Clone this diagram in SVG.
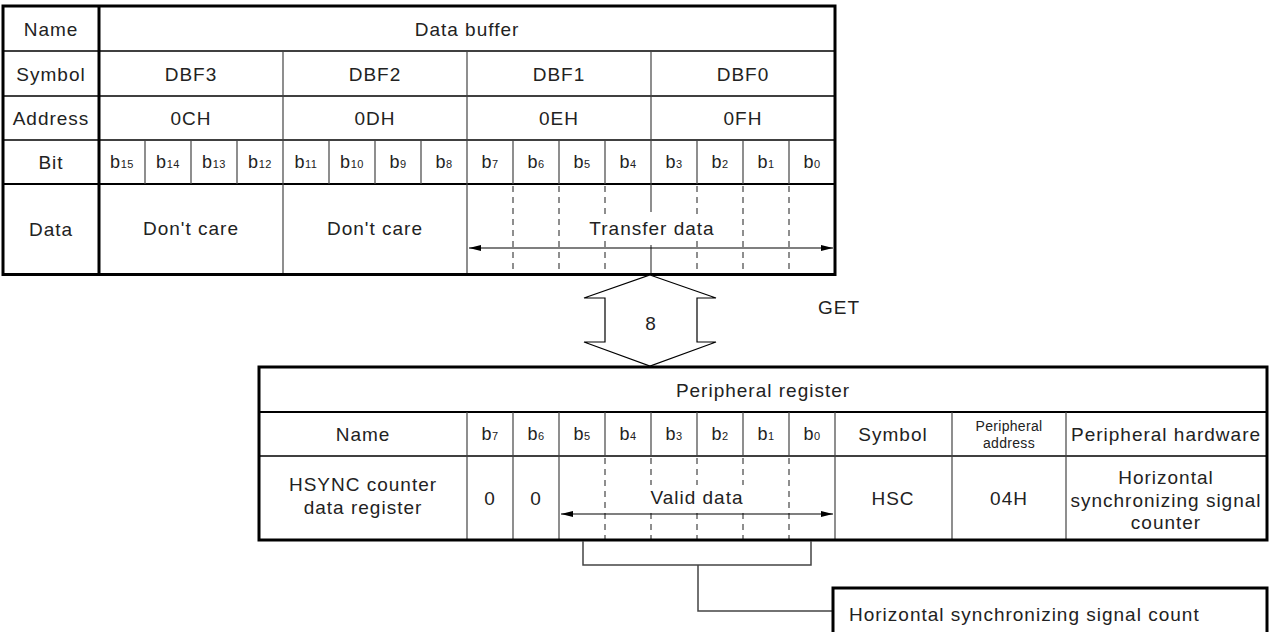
<svg xmlns="http://www.w3.org/2000/svg" width="1269" height="632" viewBox="0 0 1269 632">
  <defs>
    <style>
      text { font-family: "Liberation Sans", Arial, sans-serif; font-size: 19px; fill: #222; letter-spacing: 1px; }
      .m { text-anchor: middle; }
      .sub { font-size: 11px; letter-spacing: 0.5px; }
      .bit { font-size: 18px; text-anchor: middle; letter-spacing: 0.5px; }
      .small { font-size: 14px; letter-spacing: 0.3px; text-anchor: middle; }
      .border { fill: none; stroke: #000; stroke-width: 3; }
      .hl { stroke: #000; stroke-width: 1.5; fill: none; }
      .hl2 { stroke: #000; stroke-width: 2; fill: none; }
      .vl { stroke: #444; stroke-width: 1.2; fill: none; }
      .dash { stroke: #444; stroke-width: 1.2; stroke-dasharray: 6 5; fill: none; }
      .arr { stroke: #000; stroke-width: 1.2; fill: none; marker-start: url(#ah); marker-end: url(#ah); }
      .conn { stroke: #444; stroke-width: 1.5; fill: none; }
    </style>
    <marker id="ah" viewBox="0 0 12 6" refX="12" refY="3" markerWidth="12" markerHeight="6" markerUnits="userSpaceOnUse" orient="auto-start-reverse">
      <path d="M0,0 L12,3 L0,6 Z" fill="#000"/>
    </marker>
  </defs>
  <rect width="1269" height="632" fill="#fff"/>

  <!-- Data buffer table -->
  <g id="data-buffer">
    <rect x="3" y="6" width="832" height="268.5" fill="#fff"/>
    <line class="hl" x1="3" y1="51" x2="835" y2="51"/>
    <line class="hl" x1="3" y1="96" x2="835" y2="96"/>
    <line class="hl" x1="3" y1="140" x2="835" y2="140"/>
    <line class="hl2" x1="3" y1="184" x2="835" y2="184"/>
    <line class="vl" x1="283" y1="51" x2="283" y2="274"/>
    <line class="vl" x1="467" y1="51" x2="467" y2="274"/>
    <line class="vl" x1="651" y1="51" x2="651" y2="212"/>
    <line class="vl" x1="651" y1="245" x2="651" y2="274"/>
    <g class="vl">
      <line x1="145" y1="140" x2="145" y2="184"/>
      <line x1="191" y1="140" x2="191" y2="184"/>
      <line x1="237" y1="140" x2="237" y2="184"/>
      <line x1="329" y1="140" x2="329" y2="184"/>
      <line x1="375" y1="140" x2="375" y2="184"/>
      <line x1="421" y1="140" x2="421" y2="184"/>
      <line x1="513" y1="140" x2="513" y2="184"/>
      <line x1="559" y1="140" x2="559" y2="184"/>
      <line x1="605" y1="140" x2="605" y2="184"/>
      <line x1="697" y1="140" x2="697" y2="184"/>
      <line x1="743" y1="140" x2="743" y2="184"/>
      <line x1="789" y1="140" x2="789" y2="184"/>
    </g>
    <g class="dash">
      <line x1="513" y1="186" x2="513" y2="274"/>
      <line x1="559" y1="186" x2="559" y2="274"/>
      <line x1="605" y1="186" x2="605" y2="274"/>
      <line x1="697" y1="186" x2="697" y2="274"/>
      <line x1="743" y1="186" x2="743" y2="274"/>
      <line x1="789" y1="186" x2="789" y2="274"/>
    </g>
    <rect x="588" y="216" width="128" height="24" fill="#fff"/>
    <line class="arr" x1="469" y1="248" x2="833" y2="248"/>
    <line x1="99" y1="6" x2="99" y2="274" stroke="#000" stroke-width="3"/>
    <rect class="border" x="3" y="6" width="832" height="268.5"/>

    <text class="m" x="51" y="36">Name</text>
    <text class="m" x="51" y="81">Symbol</text>
    <text class="m" x="51" y="125">Address</text>
    <text class="m" x="51" y="169">Bit</text>
    <text class="m" x="51" y="236">Data</text>
    <text class="m" x="467" y="36">Data buffer</text>
    <text class="m" x="191" y="81">DBF3</text>
    <text class="m" x="375" y="81">DBF2</text>
    <text class="m" x="559" y="81">DBF1</text>
    <text class="m" x="743" y="81">DBF0</text>
    <text class="m" x="191" y="125">0CH</text>
    <text class="m" x="375" y="125">0DH</text>
    <text class="m" x="559" y="125">0EH</text>
    <text class="m" x="743" y="125">0FH</text>
    <text class="bit" x="122" y="168">b<tspan class="sub">15</tspan></text>
    <text class="bit" x="168" y="168">b<tspan class="sub">14</tspan></text>
    <text class="bit" x="214" y="168">b<tspan class="sub">13</tspan></text>
    <text class="bit" x="260" y="168">b<tspan class="sub">12</tspan></text>
    <text class="bit" x="306" y="168">b<tspan class="sub">11</tspan></text>
    <text class="bit" x="352" y="168">b<tspan class="sub">10</tspan></text>
    <text class="bit" x="398" y="168">b<tspan class="sub">9</tspan></text>
    <text class="bit" x="444" y="168">b<tspan class="sub">8</tspan></text>
    <text class="bit" x="490" y="168">b<tspan class="sub">7</tspan></text>
    <text class="bit" x="536" y="168">b<tspan class="sub">6</tspan></text>
    <text class="bit" x="582" y="168">b<tspan class="sub">5</tspan></text>
    <text class="bit" x="628" y="168">b<tspan class="sub">4</tspan></text>
    <text class="bit" x="674" y="168">b<tspan class="sub">3</tspan></text>
    <text class="bit" x="720" y="168">b<tspan class="sub">2</tspan></text>
    <text class="bit" x="766" y="168">b<tspan class="sub">1</tspan></text>
    <text class="bit" x="812" y="168">b<tspan class="sub">0</tspan></text>
    <text class="m" x="191" y="235">Don't care</text>
    <text class="m" x="375" y="235">Don't care</text>
    <text class="m" x="652" y="235">Transfer data</text>
  </g>

  <!-- Transfer arrow -->
  <g id="transfer-arrow">
    <polygon points="650,275 716,298 697,298 697,342 716,342 650,366 584,342 605,342 605,298 584,298" fill="#fff" stroke="#000" stroke-width="1.2"/>
    <text class="m" x="651" y="330">8</text>
    <text class="m" x="839" y="314">GET</text>
  </g>

  <!-- Peripheral register table -->
  <g id="peripheral-register">
    <rect x="259" y="367" width="1008" height="173" fill="#fff"/>
    <line class="hl2" x1="259" y1="412" x2="1267" y2="412"/>
    <line class="hl" x1="259" y1="456" x2="1267" y2="456"/>
    <g class="vl">
      <line x1="467" y1="412" x2="467" y2="540"/>
      <line x1="513" y1="412" x2="513" y2="540"/>
      <line x1="559" y1="412" x2="559" y2="540"/>
      <line x1="835" y1="412" x2="835" y2="540"/>
      <line x1="952" y1="412" x2="952" y2="540"/>
      <line x1="1066" y1="412" x2="1066" y2="540"/>
      <line x1="605" y1="412" x2="605" y2="456"/>
      <line x1="651" y1="412" x2="651" y2="456"/>
      <line x1="697" y1="412" x2="697" y2="456"/>
      <line x1="743" y1="412" x2="743" y2="456"/>
      <line x1="789" y1="412" x2="789" y2="456"/>
    </g>
    <g class="dash">
      <line x1="605" y1="458" x2="605" y2="540"/>
      <line x1="651" y1="458" x2="651" y2="540"/>
      <line x1="697" y1="458" x2="697" y2="540"/>
      <line x1="743" y1="458" x2="743" y2="540"/>
      <line x1="789" y1="458" x2="789" y2="540"/>
    </g>
    <rect x="642" y="485" width="112" height="24" fill="#fff"/>
    <line class="arr" x1="561" y1="514" x2="833" y2="514"/>
    <rect class="border" x="259" y="367" width="1008" height="173"/>

    <text class="m" x="763" y="397">Peripheral register</text>
    <text class="m" x="363" y="441">Name</text>
    <text class="bit" x="490" y="440">b<tspan class="sub">7</tspan></text>
    <text class="bit" x="536" y="440">b<tspan class="sub">6</tspan></text>
    <text class="bit" x="582" y="440">b<tspan class="sub">5</tspan></text>
    <text class="bit" x="628" y="440">b<tspan class="sub">4</tspan></text>
    <text class="bit" x="674" y="440">b<tspan class="sub">3</tspan></text>
    <text class="bit" x="720" y="440">b<tspan class="sub">2</tspan></text>
    <text class="bit" x="766" y="440">b<tspan class="sub">1</tspan></text>
    <text class="bit" x="812" y="440">b<tspan class="sub">0</tspan></text>
    <text class="m" x="893" y="441">Symbol</text>
    <text class="small" x="1009" y="431">Peripheral</text>
    <text class="small" x="1009" y="448">address</text>
    <text class="m" x="1166" y="441">Peripheral hardware</text>
    <text class="m" x="363" y="491">HSYNC counter</text>
    <text class="m" x="363" y="514">data register</text>
    <text class="m" x="490" y="505">0</text>
    <text class="m" x="536" y="505">0</text>
    <text class="m" x="697" y="504">Valid data</text>
    <text class="m" x="893" y="505">HSC</text>
    <text class="m" x="1009" y="505">04H</text>
    <text class="m" x="1166" y="484">Horizontal</text>
    <text class="m" x="1166" y="507">synchronizing signal</text>
    <text class="m" x="1166" y="529">counter</text>
  </g>

  <!-- Connectors -->
  <g id="connectors">
    <polyline class="conn" points="583,541 583,565 811,565 811,541"/>
    <polyline class="conn" points="698,565 698,611 833,611"/>
  </g>

  <!-- Annotation box -->
  <g id="count-box">
    <rect class="border" x="833" y="588" width="434" height="60" fill="#fff"/>
    <text x="849" y="621">Horizontal synchronizing signal count</text>
  </g>
</svg>
